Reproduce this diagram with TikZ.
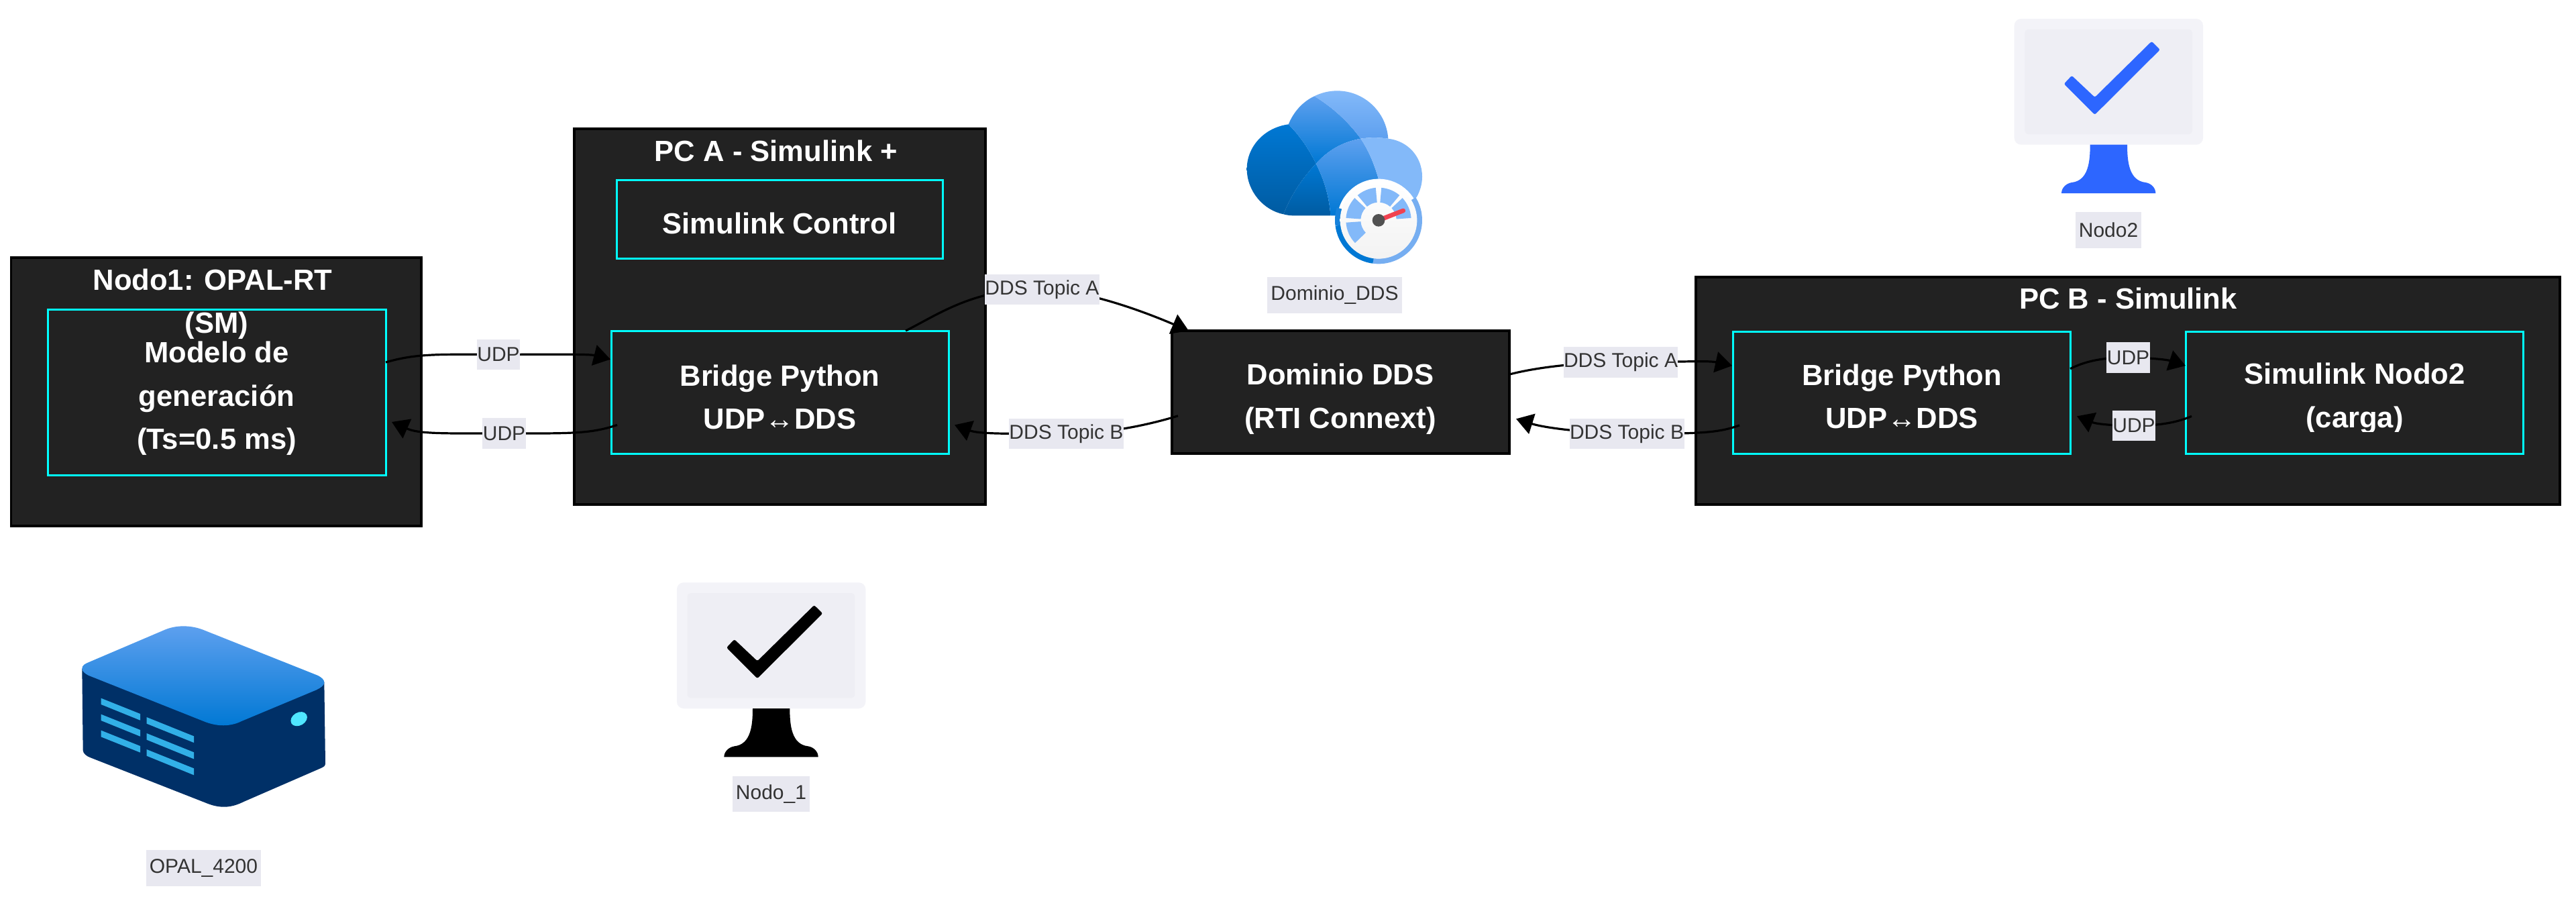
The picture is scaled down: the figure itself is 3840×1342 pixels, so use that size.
\documentclass[tikz,border=0pt]{standalone}
\usepackage{fontspec}
\setmainfont{Liberation Sans}
\newfontfamily\arrowfont{Liberation Serif}
\usetikzlibrary{arrows.meta}
\definecolor{boxfill}{HTML}{222222}
\definecolor{boxline}{HTML}{00FFFF}
\definecolor{labelbg}{HTML}{E8E8F0}
\definecolor{labeltext}{HTML}{333333}
\definecolor{monA}{HTML}{F3F3F8}
\definecolor{monB}{HTML}{EEEEF4}
\definecolor{azD}{HTML}{0078D4}
\definecolor{azE}{HTML}{005BA1}
\definecolor{azM}{HTML}{5EA0EF}
\definecolor{azL}{HTML}{83B9F9}
\definecolor{azN}{HTML}{003067}
\definecolor{azV}{HTML}{32B0E7}
\definecolor{azC}{HTML}{50E6FF}
\definecolor{chk}{HTML}{2D66FF}
\pgfdeclarelayer{edgelayer}
\pgfdeclarelayer{labellayer}
\pgfsetlayers{main,edgelayer,labellayer}
\newcommand{\bigtext}{\fontsize{43.6}{64.5}\selectfont\bfseries}
\newcommand{\smalltext}{\fontsize{30}{36}\selectfont}
\newcommand{\harrow}{{\arrowfont\mdseries ↔}}
\tikzset{
  groupbox/.style={draw=black,line width=3.4pt,fill=boxfill,inner sep=0pt,outer sep=0pt},
  innerbox/.style={draw=boxline,line width=3pt,fill=boxfill,inner sep=0pt,outer sep=0pt},
  darkbox/.style={draw=black,line width=3.4pt,fill=boxfill,inner sep=0pt,outer sep=0pt},
  bigcap/.style={text=white,align=center,font=\bigtext,inner sep=0pt},
  edgelabel/.style={fill=labelbg,text=labeltext,font=\smalltext,inner sep=0pt,outer sep=0pt},
  edgeline/.style={draw=black,line width=3.2pt},
  arrowed/.style={edgeline,-{Triangle[length=25pt,width=31pt]}},
  gaugeseg/.style={fill=azL}
}
\newcommand{\monitor}[3]{%
  \begin{scope}[shift={(#1,#2)},scale=1/3]
    \fill[monA,rounded corners=10pt] (128,84) rectangle (972,647);
    \fill[monB,rounded corners=5pt] (175,131) rectangle (924,600);
    \fill[#3,rounded corners=2.5pt] (350,375) -- (385,338) -- (488,435) -- (742,185) -- (780,222) -- (488,513) -- cycle;
    \fill[#3] (467,647) -- (633,647) .. controls (633,720) and (640,808) .. (715,816)
      .. controls (740,820) and (760,840) .. (760,864) -- (339,864)
      .. controls (339,840) and (360,820) .. (385,816)
      .. controls (460,808) and (467,720) .. (467,647) -- cycle;
  \end{scope}}
\newcommand{\gseg}[2]{\fill[gaugeseg] (#1:146) arc[start angle=#1,end angle=#2,radius=146] -- (#2:80) arc[start angle=#2,end angle=#1,radius=80] -- cycle;}
\begin{document}
\begin{tikzpicture}[x=1pt,y=1pt,yscale=-1]
\useasboundingbox (0,0) rectangle (3840,1342);
\fill[white] (0,0) rectangle (3840,1342);

% Group boxes
\node[groupbox,minimum width=611.5pt,minimum height=400pt] (nodo1) at (322.25,584) {};
\node[groupbox,minimum width=613pt,minimum height=560pt] (pca) at (1162.5,472) {};
\node[groupbox,minimum width=1288pt,minimum height=339pt] (pcb) at (3172,582.5) {};

% Inner boxes
\node[innerbox,minimum width=504pt,minimum height=247pt] (model) at (323,584.5) {};
\node[innerbox,minimum width=485.5pt,minimum height=117.5pt] (simctl) at (1162.25,326.75) {};
\node[innerbox,minimum width=503pt,minimum height=183pt] (bridgeA) at (1162.5,584.5) {};
\node[darkbox,minimum width=503pt,minimum height=183pt] (dominio) at (1998.5,584.5) {};
\node[innerbox,minimum width=503pt,minimum height=182pt] (bridgeB) at (2834.5,585) {};
\node[innerbox,minimum width=503.5pt,minimum height=182pt] (simB) at (3509.75,585) {};

% Box texts
\node[bigcap] (nodo1t) at (323,453) {Nodo1: OPAL-RT\hspace*{12pt}\\(SM)};
\node[bigcap] (modelt) at (323,594) {Modelo de\\generación\\(Ts=0.5 ms)};
\node[bigcap] (pcat) at (1157,225) {PC A - Simulink +};
\node[bigcap] (simctlt) at (1162,333) {Simulink Control};
\node[bigcap] (bridgeAt) at (1162.5,592) {Bridge Python\\UDP\harrow DDS};
\node[bigcap] (dominiot) at (1998,594.5) {Dominio DDS\\(RTI Connext)};
\node[bigcap] (pcbt) at (3172.5,445) {PC B - Simulink};
\node[bigcap] (bridgeBt) at (2835,591) {Bridge Python\\UDP\harrow DDS};
\begin{scope}
  \clip (3300,500) rectangle (3720,643);
  \node[bigcap] (simBt) at (3510,594) {Simulink Nodo2\\(carga)};
\end{scope}

% Edge labels
\begin{pgfonlayer}{labellayer}
\node[edgelabel,minimum width=64pt,minimum height=45pt] (u1) at (743,528.5) {UDP};
\node[edgelabel,minimum width=65pt,minimum height=46pt] (u2) at (751.5,646) {UDP};
\node[edgelabel,minimum width=169pt,minimum height=45pt] (ta1) at (1553.5,431.5) {DDS Topic A};
\node[edgelabel,minimum width=171pt,minimum height=45pt] (tb1) at (1589.5,646.5) {DDS Topic B};
\node[edgelabel,minimum width=168pt,minimum height=46pt] (ta2) at (2416,540) {DDS Topic A};
\node[edgelabel,minimum width=171pt,minimum height=45pt] (tb2) at (2425,646.5) {DDS Topic B};
\node[edgelabel,minimum width=65pt,minimum height=46pt] (u3) at (3172.5,533) {UDP};
\node[edgelabel,minimum width=64pt,minimum height=45pt] (u4) at (3181,634.5) {UDP};
\end{pgfonlayer}

% Connectors
\begin{pgfonlayer}{edgelayer}
\draw[arrowed] (model.10.45) .. controls (620,527) and (650,528) .. (u1.center) .. controls (840,528) and (880,528) .. ([xshift=-1pt]bridgeA.169.1);
\draw[arrowed] ([xshift=9pt]bridgeA.191.35) .. controls (880,647) and (850,646) .. (u2.center) .. controls (660,646) and (625,647) .. ([xshift=9pt]model.-10.9);
\draw[arrowed] (bridgeA.26.6) .. controls (1400,468) and (1455,428) .. (ta1.center) .. controls (1610,431.5) and (1690,458) .. (dominio.158.7);
\draw[arrowed] ([xshift=9pt]dominio.188.93) .. controls (1700,637) and (1640,646.5) .. (tb1.center) .. controls (1500,646.5) and (1460,647) .. ([xshift=9pt]bridgeA.-11.8);
\draw[arrowed] (dominio.6.47) .. controls (2300,545) and (2370,540) .. (ta2.center) .. controls (2500,540) and (2545,537) .. ([xshift=-1pt]bridgeB.171.2);
\draw[arrowed] ([xshift=10pt]bridgeB.191.24) .. controls (2560,646) and (2530,646.5) .. (tb2.center) .. controls (2390,646.5) and (2310,640) .. ([xshift=10pt]dominio.-9.15);
\draw[arrowed] (bridgeB.8.6) .. controls (3115,535) and (3145,533) .. (u3.center) .. controls (3200,533) and (3230,536) .. (simB.171.2);
\draw[arrowed] ([xshift=9pt]simB.188.35) .. controls (3240,632) and (3210,634.5) .. (u4.center) .. controls (3150,634.5) and (3125,632) .. ([xshift=10pt]bridgeB.-8.6);
\end{pgfonlayer}

% Cloud icon
\begin{scope}[shift={(1800,110)},scale=1/3]
  \shade[top color=azD,bottom color=azE] (362,226) .. controls (255,240) and (176,325) .. (176,425)
     .. controls (176,525) and (250,610) .. (340,628) .. controls (370,550) and (420,470) .. (485,402)
     .. controls (450,330) and (410,275) .. (362,226) -- cycle;
  \shade[top color=azD,bottom color=azE] (485,402) .. controls (420,470) and (370,550) .. (340,628)
     .. controls (355,632) and (370,634) .. (385,634) -- (550,634) .. controls (545,550) and (520,470) .. (485,402) -- cycle;
  \shade[top color=azM,bottom color=azD] (362,226) .. controls (385,170) and (425,125) .. (478,100)
     .. controls (560,150) and (630,215) .. (685,290) .. controls (600,305) and (535,345) .. (485,402)
     .. controls (450,330) and (410,275) .. (362,226) -- cycle;
  \shade[top color=azL,bottom color=azM] (478,100) .. controls (510,84) and (545,76) .. (580,76)
     .. controls (700,76) and (800,170) .. (808,290) .. controls (765,284) and (725,284) .. (685,290)
     .. controls (630,215) and (560,150) .. (478,100) -- cycle;
  \shade[top color=azM,bottom color=azD] (685,290) .. controls (600,305) and (535,345) .. (485,402)
     .. controls (520,470) and (545,550) .. (550,634) -- (780,634) -- (770,490)
     .. controls (750,415) and (725,350) .. (685,290) -- cycle;
  \fill[azL] (685,290) .. controls (725,284) and (765,284) .. (808,290)
     .. controls (895,300) and (960,370) .. (960,460) .. controls (960,495) and (950,525) .. (935,552)
     -- (770,640) -- (770,490) .. controls (750,415) and (725,350) .. (685,290) -- cycle;
  % gauge
  \begin{scope}[shift={(765,655)}]
    \fill[white] (0,0) circle[radius=185];
    \draw[line width=8pt,azM!85!white] (-31.7:183) arc[start angle=-31.7,end angle=97.5,radius=183];
    \draw[line width=8pt,azD] (97.5:183) arc[start angle=97.5,end angle=172.7,radius=183];
    \draw[line width=8pt,azD!75!azM] (172.7:183) arc[start angle=172.7,end angle=197,radius=183];
    \shade[top color=white,bottom color=black!5] (0,0) circle[radius=172];
    \gseg{-4}{-43}
    \gseg{-50}{-85}
    \gseg{-95}{-130}
    \gseg{-137}{-176}
    \gseg{-184}{-224}
    \draw[line width=6.7pt,line cap=round,draw={rgb,255:red,240;green,66;blue,80}] (0,0) -- (110,-43);
    \fill[black!68] (0,0) circle[radius=28];
  \end{scope}
\end{scope}
\node[edgelabel,minimum width=201pt,minimum height=54pt] (domlabel) at (1989.5,440) {Dominio\_DDS};

% Monitors
\monitor{2960}{0}{chk}
\node[edgelabel,minimum width=98pt,minimum height=54pt] (nodo2label) at (3143,343) {Nodo2};
\monitor{966.33}{840.33}{black}
\node[edgelabel,minimum width=115pt,minimum height=53pt] (nodo1label) at (1149.5,1183.5) {Nodo\_1};

% Server icon
\begin{scope}[shift={(80,900)},scale=1/3]
  \fill[azN] (127,290) -- (131,655) .. controls (131,670) and (150,683) .. (165,688)
     -- (680,890) .. controls (740,915) and (790,915) .. (850,885) -- (1195,735)
     .. controls (1210,728) and (1215,725) .. (1215,712) -- (1210,350) -- (700,400) -- cycle;
  \shade[top color=azM,bottom color=azD] (127,290) .. controls (127,275) and (140,268) .. (160,260)
     -- (500,115) .. controls (550,95) and (610,95) .. (665,115)
     -- (1180,320) .. controls (1200,330) and (1210,340) .. (1210,352)
     .. controls (1210,365) and (1195,375) .. (1175,385)
     -- (840,525) .. controls (790,550) and (730,550) .. (670,525)
     -- (155,320) .. controls (140,312) and (127,302) .. (127,290) -- cycle;
  \fill[azV] (212,422) -- (387,492) -- (387,521) -- (212,450) -- cycle;
  \fill[azV] (212,494) -- (387,564) -- (387,593) -- (212,522) -- cycle;
  \fill[azV] (212,566) -- (387,636) -- (387,665) -- (212,595) -- cycle;
  \fill[azV] (416,507) -- (627,592) -- (627,621) -- (416,536) -- cycle;
  \fill[azV] (416,579) -- (627,664) -- (627,694) -- (416,608) -- cycle;
  \fill[azV] (416,651) -- (627,736) -- (627,766) -- (416,680) -- cycle;
  \fill[azC,rotate around={-30:(1097,515)}] (1097,515) ellipse[x radius=39,y radius=29];
\end{scope}
\node[edgelabel,minimum width=171pt,minimum height=54pt] (opallabel) at (303.5,1294) {OPAL\_4200};
\end{tikzpicture}
\end{document}
